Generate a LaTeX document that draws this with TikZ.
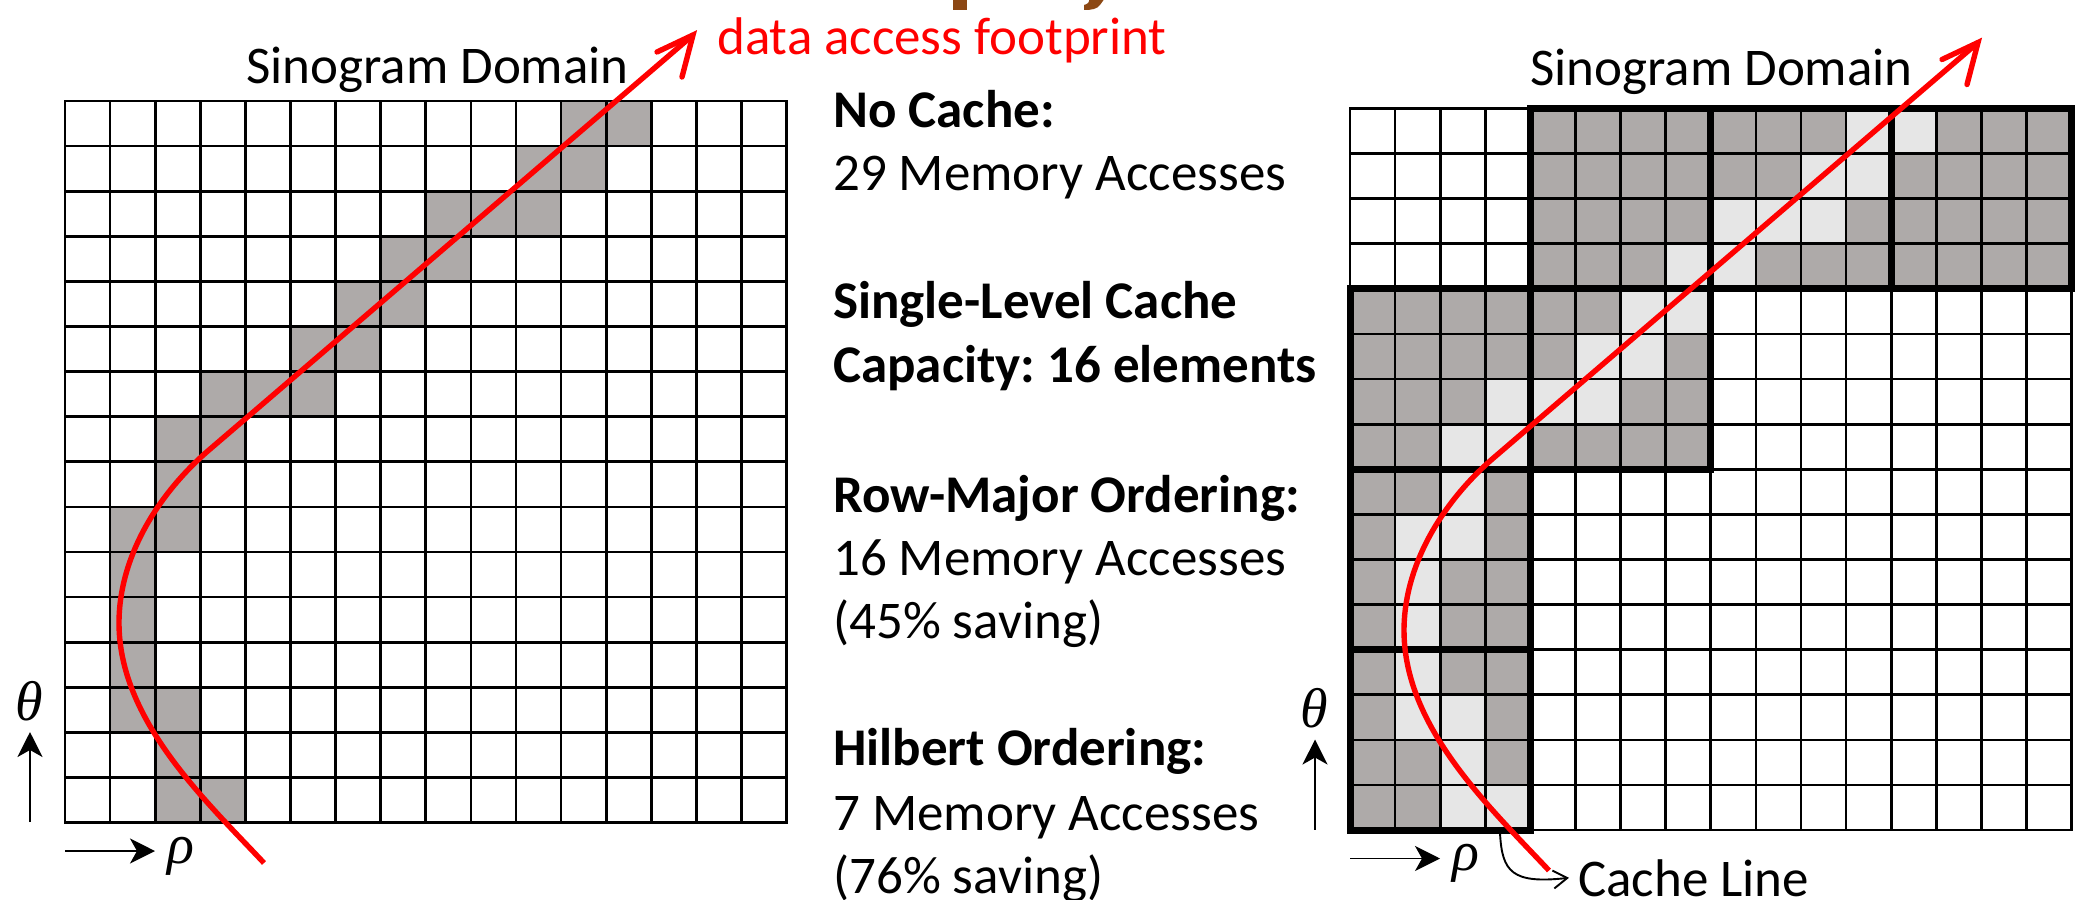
\documentclass[tikz,border=0pt]{standalone}
\usepackage{fontspec}
\setmainfont{Carlito}
\newfontfamily\grkfont{Liberation Serif}
\usetikzlibrary{arrows.meta}
\definecolor{cellgray}{RGB}{174,170,169}
\definecolor{celllight}{RGB}{230,230,230}
\definecolor{titlebrown}{RGB}{140,72,20}
\definecolor{fpred}{RGB}{255,0,0}
\newcommand\cellw{45.1}
\newcommand\pathcells{11/0,12/0,10/1,11/1,8/2,9/2,10/2,7/3,8/3,6/4,7/4,5/5,6/5,3/6,4/6,5/6,2/7,3/7,2/8,1/9,2/9,1/10,1/11,1/12,1/13,2/13,2/14,2/15,3/15}
\frenchspacing
\begin{document}
\begin{tikzpicture}[x=1pt,y=-1pt,
  gridline/.style={line width=2.7pt,line cap=rect},
  blockline/.style={line width=7pt,line join=miter},
  footprint/.style={draw=fpred,line width=5.4pt},
  axisarrow/.style={line width=1.9pt,-{Stealth[length=25pt,width=25pt,inset=7pt]}},
  txt/.style={inner sep=0pt,font=\fontsize{53}{62}\selectfont},
  btxt/.style={inner sep=0pt,font=\fontsize{53}{62}\selectfont\bfseries},
  greek/.style={inner sep=0pt,font=\fontsize{56}{62}\selectfont\grkfont\itshape}]
\useasboundingbox (0,0) rectangle (2084,899);
\fill[white] (0,0) rectangle (2084,899);
% fragments of a cut-off title
\fill[titlebrown] (953,-2) rectangle (967,10);
\fill[titlebrown] (1089,-2) -- (1105,-2) -- (1100,5) .. controls (1097,9) and (1092,10) .. (1084,10) -- (1084,5) .. controls (1088,4) and (1090,2) .. cycle;
% left grid
\begin{scope}[shift={(65,101)}]
  \foreach \c/\r in \pathcells {\fill[cellgray] (\c*\cellw,\r*\cellw) rectangle ++(\cellw,\cellw);}
  \foreach \i in {0,...,16} {
    \draw[gridline] (\i*\cellw,0) -- (\i*\cellw,16*\cellw);
    \draw[gridline] (0,\i*\cellw) -- (16*\cellw,\i*\cellw);
  }
\end{scope}
% right grid
\begin{scope}[shift={(1350,108.5)}]
  \foreach \c/\r in {4/0,8/0,12/0,0/4,4/4,0/8,0/12} {\fill[cellgray] (\c*\cellw,\r*\cellw) rectangle ++(4*\cellw,4*\cellw);}
  \foreach \c/\r in \pathcells {\fill[celllight] (\c*\cellw,\r*\cellw) rectangle ++(\cellw,\cellw);}
  \foreach \i in {0,...,16} {
    \draw[gridline] (\i*\cellw,0) -- (\i*\cellw,16*\cellw);
    \draw[gridline] (0,\i*\cellw) -- (16*\cellw,\i*\cellw);
  }
  \foreach \c/\r in {4/0,8/0,12/0,0/4,4/4,0/8,0/12} {\draw[blockline] (\c*\cellw,\r*\cellw) rectangle ++(4*\cellw,4*\cellw);}
\end{scope}
% footprints and axes
\foreach \dx/\dy/\s in {0/0/L,1285/7.5/R} {
  \begin{scope}[shift={(\dx,\dy)}]
    \coordinate (fpB\s) at (264,863);
    \coordinate (fpL\s) at (119,623);
    \coordinate (fpJ\s) at (209,450);
    \coordinate (fpT\s) at (693,35);
    \draw[footprint] (fpB\s) .. controls (205,800) and (119,720) .. (fpL\s) .. controls (119,555) and (160,492) .. (fpJ\s) -- (fpT\s);
    \draw[footprint,line cap=round,line join=miter] ([shift={(-36,17)}]fpT\s) -- (fpT\s) -- ([shift={(-11,42)}]fpT\s);
    \coordinate (thB\s) at (30,822);
    \coordinate (thT\s) at (30,732);
    \draw[axisarrow] (thB\s) -- (thT\s);
    \node[greek,anchor=base] (theta\s) at (29.5,720) {θ};
    \coordinate (rhoB\s) at (65,851);
    \coordinate (rhoT\s) at (155,851);
    \draw[axisarrow] (rhoB\s) -- (rhoT\s);
    \node[greek,anchor=base] (rho\s) at (181,863) {ρ};
  \end{scope}
}
% labels
\node[txt,anchor=base east] (sinoL) at (629,83) {Sinogram Domain};
\node[txt,anchor=base east] (sinoR) at (1913,85) {Sinogram Domain};
\node[txt,text=fpred,anchor=base west] (fplabel) at (717,55) {data access footprint};
\node[btxt,anchor=base west] (t1) at (833,127) {No Cache:};
\node[txt,anchor=base west] (t2) at (833,190) {29 Memory Accesses};
\node[btxt,anchor=base west] (t3) at (833,318) {Single-Level Cache};
\node[btxt,anchor=base west] (t4) at (833,382) {Capacity: 16 elements};
\node[btxt,anchor=base west] (t5) at (833,512) {Row-Major Ordering:};
\node[txt,anchor=base west] (t6) at (833,575) {16 Memory Accesses};
\node[txt,anchor=base west] (t7) at (833,638) {(45\% saving)};
\node[btxt,anchor=base west] (t8) at (833,765) {Hilbert Ordering:};
\node[txt,anchor=base west] (t9) at (833,830) {7 Memory Accesses};
\node[txt,anchor=base west] (t10) at (833,893) {(76\% saving)};
\node[txt,anchor=base west] (cacheline) at (1578,896) {Cache Line};
\coordinate (clstart) at (1500,833);
\draw[line width=1.9pt,-{Straight Barb[length=14pt,width=18pt]}] (clstart) .. controls (1502,872) and (1512,884) .. ([xshift=-9pt]cacheline.west);
\end{tikzpicture}
\end{document}
